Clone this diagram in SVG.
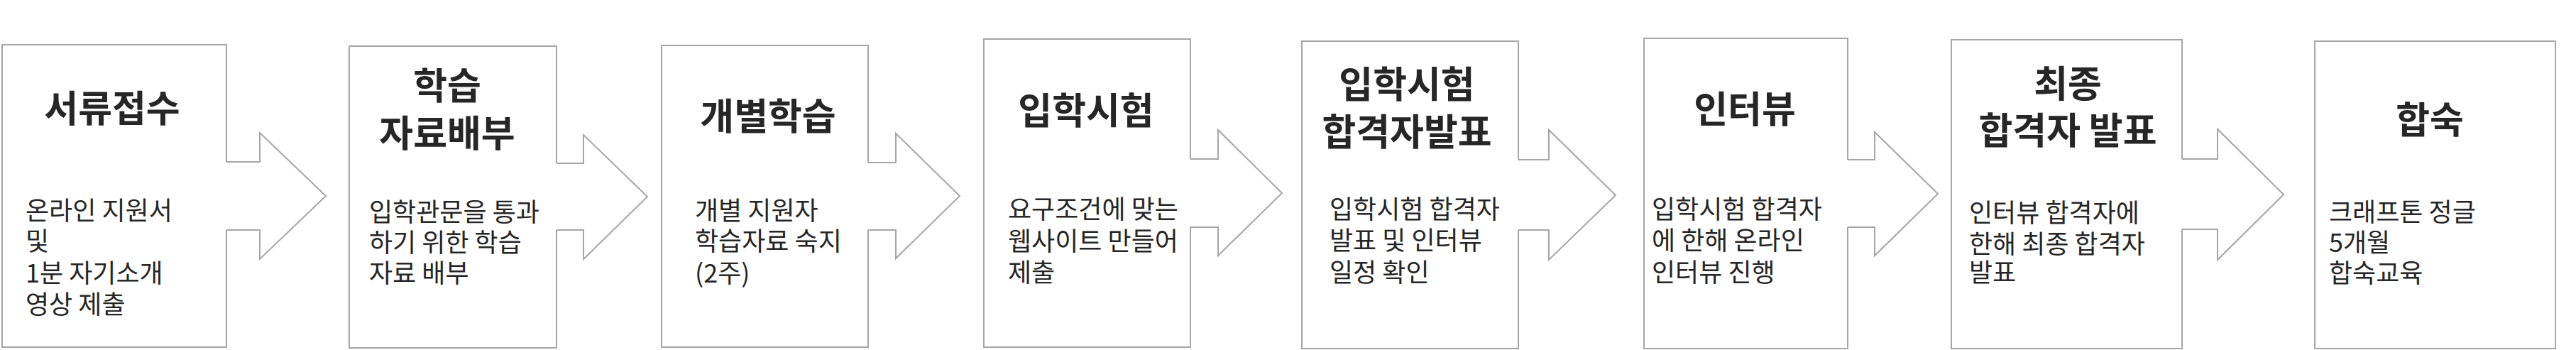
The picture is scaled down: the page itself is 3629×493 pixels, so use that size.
<svg xmlns="http://www.w3.org/2000/svg" width="3629" height="493" viewBox="0 0 3629 493">
<style>
.box{fill:#fff;stroke:#a6a6a6;stroke-width:2}
.af{fill:#fff;stroke:none}
.as{fill:none;stroke:#a6a6a6;stroke-width:2}
.t{font-family:"Noto Sans CJK KR","Noto Sans",sans-serif;font-weight:bold;font-size:52px;fill:#262626;text-anchor:middle}
.b{font-family:"Noto Sans CJK KR","Noto Sans",sans-serif;font-size:36px;fill:#262626}
</style>
<rect width="3629" height="493" fill="#fff"/>
<g id="boxes">
<rect id="n1-box" class="box" x="3" y="63" width="316" height="426"/>
<rect id="n2-box" class="box" x="492" y="65" width="292" height="425"/>
<rect id="n3-box" class="box" x="932" y="64" width="291" height="425"/>
<rect id="n4-box" class="box" x="1386" y="55" width="291" height="434"/>
<rect id="n5-box" class="box" x="1834" y="58" width="305" height="433"/>
<rect id="n6-box" class="box" x="2316" y="54" width="287" height="437"/>
<rect id="n7-box" class="box" x="2749" y="56" width="325" height="435"/>
<rect id="n8-box" class="box" x="3261" y="58" width="339" height="433"/>
</g>
<g id="connectors">
<polygon class="af" points="316,228 366,228 366,187 459,276 366,365 366,324 316,324"/>
<polyline class="as" points="319,228 366,228 366,187 459,276 366,365 366,324 319,324"/>
<polygon class="af" points="781,230 822,230 822,190 912,277 822,365 822,324 781,324"/>
<polyline class="as" points="784,230 822,230 822,190 912,277 822,365 822,324 784,324"/>
<polygon class="af" points="1220,229 1262,229 1262,188 1352,276 1262,364 1262,324 1220,324"/>
<polyline class="as" points="1223,229 1262,229 1262,188 1352,276 1262,364 1262,324 1223,324"/>
<polygon class="af" points="1674,224 1716,224 1716,183 1806,272 1716,360 1716,320 1674,320"/>
<polyline class="as" points="1677,224 1716,224 1716,183 1806,272 1716,360 1716,320 1677,320"/>
<polygon class="af" points="2136,225 2182,225 2182,183 2276,275 2182,366 2182,324 2136,324"/>
<polyline class="as" points="2139,225 2182,225 2182,183 2276,275 2182,366 2182,324 2139,324"/>
<polygon class="af" points="2600,225 2641,225 2641,186 2730,273 2641,360 2641,320 2600,320"/>
<polyline class="as" points="2603,225 2641,225 2641,186 2730,273 2641,360 2641,320 2603,320"/>
<polygon class="af" points="3071,224 3124,224 3124,182 3217,274 3124,366 3124,323 3071,323"/>
<polyline class="as" points="3074,224 3124,224 3124,182 3217,274 3124,366 3124,323 3074,323"/>
</g>
<g id="n1"><text class="t" x="158" y="172">서류접수</text>
<text class="b" x="36" y="310">온라인 지원서</text><text class="b" x="36" y="353">및</text><text class="b" x="36" y="398">1분 자기소개</text><text class="b" x="36" y="442">영상 제출</text></g>
<g id="n2"><text class="t" x="630" y="140">학습</text><text class="t" x="630" y="207">자료배부</text>
<text class="b" x="520" y="312">입학관문을 통과</text><text class="b" x="520" y="355">하기 위한 학습</text><text class="b" x="520" y="398">자료 배부</text></g>
<g id="n3"><text class="t" x="1082" y="183">개별학습</text>
<text class="b" x="979" y="310">개별 지원자</text><text class="b" x="979" y="353">학습자료 숙지</text><text class="b" x="979" y="398">(2주)</text></g>
<g id="n4"><text class="t" x="1530" y="175">입학시험</text>
<text class="b" x="1420" y="308">요구조건에 맞는</text><text class="b" x="1420" y="353">웹사이트 만들어</text><text class="b" x="1420" y="397">제출</text></g>
<g id="n5"><text class="t" x="1982" y="138">입학시험</text><text class="t" x="1982" y="205">합격자발표</text>
<text class="b" x="1873" y="308">입학시험 합격자</text><text class="b" x="1873" y="352">발표 및 인터뷰</text><text class="b" x="1873" y="397">일정 확인</text></g>
<g id="n6"><text class="t" x="2458" y="173">인터뷰</text>
<text class="b" x="2327" y="308">입학시험 합격자</text><text class="b" x="2327" y="352">에 한해 온라인</text><text class="b" x="2327" y="397">인터뷰 진행</text></g>
<g id="n7"><text class="t" x="2913" y="137">최종</text><text class="t" x="2913" y="203">합격자 발표</text>
<text class="b" x="2774" y="313">인터뷰 합격자에</text><text class="b" x="2774" y="357">한해 최종 합격자</text><text class="b" x="2774" y="397">발표</text></g>
<g id="n8"><text class="t" x="3423" y="188">합숙</text>
<text class="b" x="3281" y="312">크래프톤 정글</text><text class="b" x="3281" y="355">5개월</text><text class="b" x="3281" y="398">합숙교육</text></g>
</svg>
